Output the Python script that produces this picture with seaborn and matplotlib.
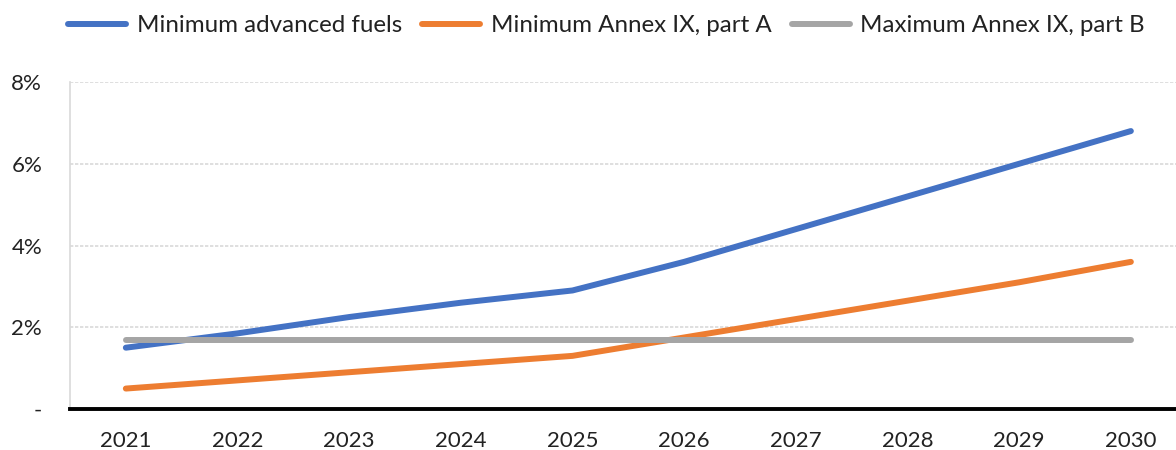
import matplotlib
matplotlib.use("Agg")
import matplotlib.pyplot as plt
import seaborn as sns
import pandas as pd
from matplotlib.ticker import FuncFormatter
from matplotlib.lines import Line2D

years = [2021, 2022, 2023, 2024, 2025, 2026, 2027, 2028, 2029, 2030]
min_advanced = [1.5, 1.85, 2.25, 2.6, 2.9, 3.6, 4.4, 5.2, 6.0, 6.8]
min_annex_a = [0.5, 0.7, 0.9, 1.1, 1.3, 1.75, 2.2, 2.65, 3.1, 3.6]
max_annex_b = [1.7, 1.7, 1.7, 1.7, 1.7, 1.7, 1.7, 1.7, 1.7, 1.7]
series_names = ["Minimum advanced fuels", "Minimum Annex IX, part A", "Maximum Annex IX, part B"]
colors = ["#4472C4", "#ED7D31", "#A5A5A5"]

df = pd.concat([
    pd.DataFrame({"year": years, "value": vals, "series": name})
    for name, vals in zip(series_names, [min_advanced, min_annex_a, max_annex_b])
])

sns.set_theme(style="white")
plt.rcParams["font.family"] = ["Lato", "DejaVu Sans"]

fig = plt.figure(figsize=(11.76, 4.5), dpi=100)
ax = fig.add_axes([70 / 1176, 1 - 409 / 450, 1116.7 / 1176, (409 - 82) / 450])

sns.lineplot(data=df, x="year", y="value", hue="series", hue_order=series_names,
             palette=colors, linewidth=4.3, ax=ax, legend=False,
             solid_capstyle="round")

ax.set_xlim(2020.5, 2030.5)
ax.set_ylim(0, 8)
ax.set_xticks(years)
ax.set_xticklabels([str(y) for y in years])
ax.set_yticks([0, 2, 4, 6, 8])
ax.yaxis.set_major_formatter(FuncFormatter(lambda v, p: "-" if v == 0 else f"{v:.0f}%"))
ax.set_xlabel("")
ax.set_ylabel("")

ax.grid(axis="y", color="#D9D9D9", linewidth=1.2, linestyle=(0, (2, 1)))
ax.set_axisbelow(True)
for s in ["top", "right"]:
    ax.spines[s].set_visible(False)
ax.spines["left"].set_color("#D9D9D9")
ax.spines["left"].set_linewidth(1.2)
ax.spines["left"].set_linestyle((0, (2, 1)))
ax.spines["bottom"].set_color("black")
ax.spines["bottom"].set_linewidth(2.8)
ax.spines["bottom"].set_zorder(5)

ax.tick_params(axis="both", length=0, labelsize=16, colors="#222222")
ax.tick_params(axis="y", pad=20)
ax.tick_params(axis="x", pad=16)

handles = [Line2D([0], [0], color=c, linewidth=4.3, solid_capstyle="round") for c in colors]
fig.legend(handles, series_names, loc="center", bbox_to_anchor=(606.5 / 1176, 1 - 26 / 450),
           ncol=3, frameon=False, fontsize=17.4, handlelength=2.4, handletextpad=0.42,
           columnspacing=0.85, labelcolor="#222222", borderpad=0, borderaxespad=0)

fig.savefig("out.png", dpi=100)
